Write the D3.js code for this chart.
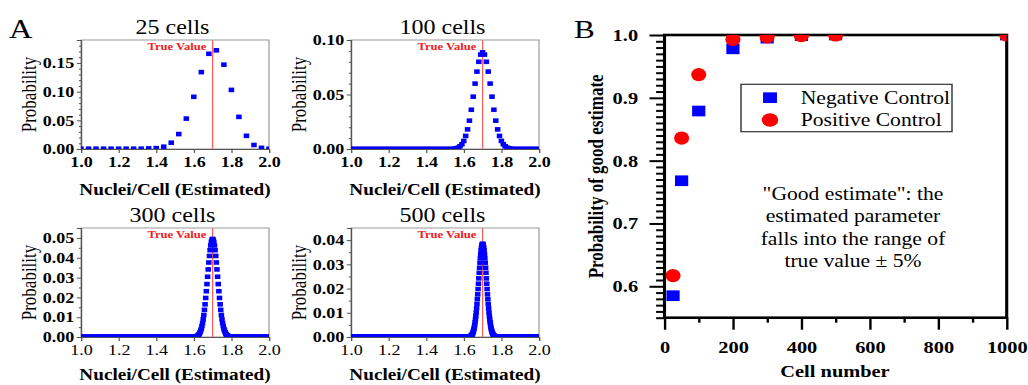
<!DOCTYPE html>
<html>
<head>
<meta charset="utf-8">
<script src="https://cdn.jsdelivr.net/npm/d3@7"></script>
<style>
	body { margin: 0; background: #fff; }
	svg { display: block; }
	text { font-family: "Liberation Serif", "Times New Roman", serif; }
</style>
</head>
<body>
<svg id="fig"></svg>
<script>
// ---- data ----
// panel A: probability of each estimate i/n (i = start, start+1, ...); tails read as 0
const cellCounts = [ 25, 100, 300, 500 ] ;
const panelTitles = [ '25 cells', '100 cells', '300 cells', '500 cells' ] ;
const trueValue = 1.7 ;

const p25Start = 25 ;
const p25 = [ 0.0005, 0.0005, 0.0005, 0.0005, 0.0005, 0.0005, 0.0005, 0.0005, 0.0005, 0.001, 0.0015,
	0.004, 0.011, 0.026, 0.053, 0.091, 0.134, 0.166, 0.172, 0.147, 0.103, 0.056, 0.023, 0.007, 0.002, 0.0005 ] ;

const p100Start = 155 ;
const p100 = [ 0.0003, 0.0006, 0.0013, 0.0025, 0.0044, 0.0074, 0.012, 0.018, 0.026, 0.036, 0.048, 0.060,
	0.071, 0.080, 0.0866, 0.0887, 0.0866, 0.080, 0.071, 0.060, 0.048, 0.036, 0.026, 0.018, 0.012, 0.0074,
	0.0044, 0.0025, 0.0013, 0.0006, 0.0003 ] ;

const p300Start = 482 ;
const p300 = [ 0.0001, 0.0002, 0.0003, 0.0004, 0.0006, 0.0009, 0.0012, 0.0017, 0.0024, 0.0032, 0.0042,
	0.0055, 0.0070, 0.0089, 0.0111, 0.0137, 0.0165, 0.0197, 0.0231, 0.0267, 0.0304, 0.0341, 0.0376, 0.0409,
	0.0438, 0.0462, 0.0480, 0.0491, 0.0495, 0.0491, 0.0480, 0.0462, 0.0438, 0.0409, 0.0376, 0.0341, 0.0304,
	0.0267, 0.0231, 0.0197, 0.0165, 0.0137, 0.0111, 0.0089, 0.0070, 0.0055, 0.0042, 0.0032, 0.0024, 0.0017,
	0.0012, 0.0009, 0.0006, 0.0004, 0.0003, 0.0002, 0.0001 ] ;

const p500Start = 814 ;
const p500 = [ 0.0001, 0.0001, 0.0002, 0.0003, 0.0003, 0.0005, 0.0006, 0.0008, 0.0010, 0.0013, 0.0017,
	0.0021, 0.0027, 0.0033, 0.0041, 0.0050, 0.0061, 0.0073, 0.0086, 0.0101, 0.0118, 0.0136, 0.0156, 0.0176,
	0.0198, 0.0220, 0.0242, 0.0265, 0.0286, 0.0307, 0.0326, 0.0343, 0.0358, 0.0369, 0.0378, 0.0383, 0.0385,
	0.0383, 0.0378, 0.0369, 0.0358, 0.0343, 0.0326, 0.0307, 0.0286, 0.0265, 0.0242, 0.0220, 0.0198, 0.0176,
	0.0156, 0.0136, 0.0118, 0.0101, 0.0086, 0.0073, 0.0061, 0.0050, 0.0041, 0.0033, 0.0027, 0.0021, 0.0017,
	0.0013, 0.0010, 0.0008, 0.0006, 0.0005, 0.0003, 0.0003, 0.0002, 0.0001, 0.0001 ] ;

const xTicksA = [ 1.0, 1.2, 1.4, 1.6, 1.8, 2.0 ] ;
const yMaxA = [ 0.19, 0.10, 0.055, 0.045 ] ;
const yTicksA = [
	[ 0, 0.05, 0.10, 0.15 ],
	[ 0, 0.05, 0.10 ],
	[ 0, 0.01, 0.02, 0.03, 0.04, 0.05 ],
	[ 0, 0.01, 0.02, 0.03, 0.04 ]
] ;
const yMinorA = [
	[ 0.01, 0.02, 0.03, 0.04, 0.06, 0.07, 0.08, 0.09, 0.11, 0.12, 0.13, 0.14, 0.16, 0.17, 0.18 ],
	[ 0.01, 0.02, 0.03, 0.04, 0.06, 0.07, 0.08, 0.09 ],
	[ 0.005, 0.015, 0.025, 0.035, 0.045 ],
	[ 0.005, 0.015, 0.025, 0.035 ]
] ;

// panel B
const cellNumbers = [ 25, 50, 100, 200, 300, 400, 500, 1000 ] ;
const negativeControl = [ 0.585, 0.768, 0.879, 0.978, 0.995, 0.999, 1.0, 1.0 ] ;
const positiveControl = [ 0.617, 0.836, 0.937, 0.993, 0.997, 0.999, 1.0, 1.0 ] ;
const xTicksB = [ 0, 200, 400, 600, 800, 1000 ] ;
const xMinorB = [ 100, 300, 500, 700, 900 ] ;
const yTicksB = [ 0.6, 0.7, 0.8, 0.9, 1.0 ] ;
const yMinorB = [ 0.55, 0.56, 0.57, 0.58, 0.59, 0.61, 0.62, 0.63, 0.64, 0.65, 0.66, 0.67, 0.68, 0.69,
	0.71, 0.72, 0.73, 0.74, 0.75, 0.76, 0.77, 0.78, 0.79, 0.81, 0.82, 0.83, 0.84, 0.85, 0.86, 0.87, 0.88,
	0.89, 0.91, 0.92, 0.93, 0.94, 0.95, 0.96, 0.97, 0.98, 0.99 ] ;
const annotation = [ '"Good estimate": the', 'estimated parameter', 'falls into the range of', 'true value \u00b1 5%' ] ;

// ---- layout ----
// the original figure is stretched horizontally, so draw in a squeezed viewBox
const SX = 1.2 ;
const vx = px => px / SX ;
const svg = d3.select( '#fig' )
	.attr( 'width', 1028 )
	.attr( 'height', 385 )
	.attr( 'viewBox', `0 0 ${1028 / SX} 385` )
	.attr( 'preserveAspectRatio', 'none' ) ;

const boxesA = [
	{ left: 81, right: 269, top: 40, bottom: 149 },
	{ left: 351, right: 539, top: 40, bottom: 149 },
	{ left: 81, right: 269, top: 228, bottom: 337 },
	{ left: 351, right: 539, top: 228, bottom: 337 }
] ;
const boldX = [ true, true, false, false ] ;
const series = [ [ p25Start, p25 ], [ p100Start, p100 ], [ p300Start, p300 ], [ p500Start, p500 ] ] ;

svg.append( 'text' ).attr( 'x', vx(9) ).attr( 'y', 38 ).attr( 'font-size', 27 ).text( 'A' ) ;
svg.append( 'text' ).attr( 'x', vx(574) ).attr( 'y', 38 ).attr( 'font-size', 26 ).text( 'B' ) ;

boxesA.forEach( ( b, k ) => {
	const n = cellCounts[k] ;
	const [ start, probs ] = series[k] ;
	const data = d3.range( n, 2 * n + 1 ).map( i => ({
		x: i / n,
		p: ( i >= start && i < start + probs.length ) ? probs[i - start] : 0
	}) ) ;

	const x = d3.scaleLinear().domain( [ 1, 2 ] ).range( [ vx(b.left), vx(b.right) ] ) ;
	const y = d3.scaleLinear().domain( [ 0, yMaxA[k] ] ).range( [ b.bottom, b.top ] ) ;
	const g = svg.append( 'g' ) ;

	g.append( 'clipPath' ).attr( 'id', 'clipA' + k )
		.append( 'rect' )
		.attr( 'x', x(1) ).attr( 'y', b.top )
		.attr( 'width', x(2) - x(1) ).attr( 'height', b.bottom - b.top ) ;

	// frame: light top/right, darker left/bottom
	g.append( 'rect' )
		.attr( 'x', x(1) ).attr( 'y', b.top )
		.attr( 'width', x(2) - x(1) ).attr( 'height', b.bottom - b.top )
		.attr( 'fill', 'none' ).attr( 'stroke', '#999' ).attr( 'stroke-width', 1 ) ;

	const yAxis = g.append( 'g' )
		.attr( 'transform', `translate(${x(1)},0)` )
		.call( d3.axisLeft( y ).tickValues( yTicksA[k] ).tickSize( 3.5 ).tickPadding( 2.2 ).tickFormat( d3.format( '.2f' ) ) ) ;
	yAxis.selectAll( 'text' ).attr( 'font-size', 15 ).attr( 'font-weight', 'bold' ).attr( 'font-family', null ).attr( 'fill', '#000' ) ;
	g.append( 'g' )
		.attr( 'transform', `translate(${x(1)},0)` )
		.call( d3.axisLeft( y ).tickValues( yMinorA[k] ).tickSize( 1.8 ).tickFormat( '' ) )
		.select( '.domain' ).remove() ;

	const xAxis = g.append( 'g' )
		.attr( 'transform', `translate(0,${b.bottom})` )
		.call( d3.axisBottom( x ).tickValues( xTicksA ).tickSize( 4 ).tickPadding( 3.3 ).tickFormat( d3.format( '.1f' ) ) ) ;
	xAxis.selectAll( 'text' ).attr( 'font-size', 15 ).attr( 'font-weight', boldX[k] ? 'bold' : 'normal' ).attr( 'font-family', null ).attr( 'fill', '#000' ) ;

	g.selectAll( '.tick line, .domain' ).attr( 'stroke', '#555' ) ;

	// true value marker
	g.append( 'line' )
		.attr( 'x1', x(trueValue) ).attr( 'x2', x(trueValue) )
		.attr( 'y1', b.top ).attr( 'y2', b.bottom )
		.attr( 'stroke', '#ff5c5c' ).attr( 'stroke-width', 1 ) ;
	g.append( 'text' )
		.attr( 'x', x(trueValue) - 5.2 ).attr( 'y', b.top + 10 )
		.attr( 'text-anchor', 'end' )
		.attr( 'font-size', 10.5 ).attr( 'font-weight', 'bold' )
		.attr( 'fill', '#f02020' )
		.text( 'True Value' ) ;

	g.append( 'g' ).attr( 'clip-path', `url(#clipA${k})` )
		.selectAll( 'rect' )
		.data( data )
		.enter()
		.append( 'rect' )
		.attr( 'x', d => x(d.x) - 2.3 )
		.attr( 'y', d => y(d.p) - 2.3 )
		.attr( 'width', 4.6 ).attr( 'height', 4.6 )
		.attr( 'fill', '#0000ff' ) ;

	// titles
	g.append( 'text' )
		.attr( 'x', vx( ( b.left + b.right ) / 2 - 2.5 ) ).attr( 'y', b.top - 6 )
		.attr( 'text-anchor', 'middle' ).attr( 'font-size', 20 )
		.text( panelTitles[k] ) ;
	g.append( 'text' )
		.attr( 'x', vx( ( b.left + b.right ) / 2 ) ).attr( 'y', Math.min( b.bottom + 46, 380 ) )
		.attr( 'text-anchor', 'middle' ).attr( 'font-size', 16 ).attr( 'font-weight', 'bold' )
		.text( 'Nuclei/Cell (Estimated)' ) ;
	g.append( 'text' )
		.attr( 'transform', `translate(${vx(b.left - 45.5)},${( b.top + b.bottom ) / 2}) rotate(-90)` )
		.attr( 'text-anchor', 'middle' ).attr( 'font-size', 17 )
		.text( 'Probability' ) ;
} ) ;

// ---- panel B ----
const B = { left: 664.5, right: 1006.7, top: 35, bottom: 317.7 } ;
const xB = d3.scaleLinear().domain( [ 0, 1000 ] ).range( [ vx(B.left), vx(B.right) ] ) ;
const yB = d3.scaleLinear().domain( [ 0.55, 1.0 ] ).range( [ B.bottom, B.top ] ) ;
const gB = svg.append( 'g' ) ;

gB.append( 'clipPath' ).attr( 'id', 'clipB' )
	.append( 'rect' )
	.attr( 'x', xB(0) ).attr( 'y', B.top )
	.attr( 'width', xB(1000) - xB(0) ).attr( 'height', B.bottom - B.top ) ;

const yAxisB = gB.append( 'g' )
	.attr( 'transform', `translate(${xB(0)},0)` )
	.call( d3.axisLeft( yB ).tickValues( yTicksB ).tickSize( 12.5 ).tickPadding( 9.5 ).tickFormat( d3.format( '.1f' ) ) ) ;
yAxisB.selectAll( 'text' ).attr( 'font-size', 17 ).attr( 'font-weight', 'bold' ).attr( 'font-family', null ).attr( 'fill', '#000' ) ;
gB.append( 'g' )
	.attr( 'transform', `translate(${xB(0)},0)` )
	.call( d3.axisLeft( yB ).tickValues( yMinorB ).tickSize( 7 ).tickFormat( '' ) )
	.select( '.domain' ).remove() ;

const xAxisB = gB.append( 'g' )
	.attr( 'transform', `translate(0,${B.bottom})` )
	.call( d3.axisBottom( xB ).tickValues( xTicksB ).tickSize( 12 ).tickPadding( 11 ).tickFormat( d3.format( 'd' ) ) ) ;
xAxisB.selectAll( 'text' ).attr( 'font-size', 17 ).attr( 'font-weight', 'bold' ).attr( 'font-family', null ).attr( 'fill', '#000' ) ;
gB.append( 'g' )
	.attr( 'transform', `translate(0,${B.bottom})` )
	.call( d3.axisBottom( xB ).tickValues( xMinorB ).tickSize( 5 ).tickFormat( '' ) )
	.select( '.domain' ).remove() ;

gB.selectAll( '.tick line' ).attr( 'stroke', '#000' ).attr( 'stroke-width', 2 ) ;
gB.selectAll( '.domain' ).remove() ;

gB.append( 'rect' )
	.attr( 'x', xB(0) ).attr( 'y', B.top )
	.attr( 'width', xB(1000) - xB(0) ).attr( 'height', B.bottom - B.top )
	.attr( 'fill', 'none' ).attr( 'stroke', '#000' ).attr( 'stroke-width', 2.6 ) ;

const marks = gB.append( 'g' ).attr( 'clip-path', 'url(#clipB)' ) ;
marks.selectAll( 'rect.neg' )
	.data( d3.zip( cellNumbers, negativeControl ) )
	.enter()
	.append( 'rect' )
	.attr( 'class', 'neg' )
	.attr( 'x', d => xB(d[0]) - 5.5 )
	.attr( 'y', d => yB(d[1]) - 5.35 )
	.attr( 'width', 11 ).attr( 'height', 10.7 )
	.attr( 'fill', '#0000ff' ) ;
marks.selectAll( 'ellipse.pos' )
	.data( d3.zip( cellNumbers, positiveControl ) )
	.enter()
	.append( 'ellipse' )
	.attr( 'class', 'pos' )
	.attr( 'cx', d => xB(d[0]) )
	.attr( 'cy', d => yB(d[1]) )
	.attr( 'rx', 6.3 ).attr( 'ry', 6.6 )
	.attr( 'fill', '#ff0000' ) ;

// legend
const legend = gB.append( 'g' ) ;
legend.append( 'rect' )
	.attr( 'x', vx(741) ).attr( 'y', 84.3 )
	.attr( 'width', vx(952) - vx(741) ).attr( 'height', 47.4 )
	.attr( 'fill', '#fff' ).attr( 'stroke', '#333' ).attr( 'stroke-width', 1.2 ) ;
legend.append( 'rect' )
	.attr( 'x', vx(770) - 5.8 ).attr( 'y', 97.7 - 5.35 )
	.attr( 'width', 11.6 ).attr( 'height', 10.7 )
	.attr( 'fill', '#0000ff' ) ;
legend.append( 'ellipse' )
	.attr( 'cx', vx(770) ).attr( 'cy', 120 )
	.attr( 'rx', 6.9 ).attr( 'ry', 6.7 )
	.attr( 'fill', '#ff0000' ) ;
legend.append( 'text' ).attr( 'x', vx(800.7) ).attr( 'y', 104 ).attr( 'font-size', 18 ).text( 'Negative Control' ) ;
legend.append( 'text' ).attr( 'x', vx(800.7) ).attr( 'y', 126 ).attr( 'font-size', 18 ).text( 'Positive Control' ) ;

gB.selectAll( 'text.note' )
	.data( annotation )
	.enter()
	.append( 'text' )
	.attr( 'class', 'note' )
	.attr( 'x', vx(853) )
	.attr( 'y', ( d, i ) => 200 + i * 22.5 )
	.attr( 'text-anchor', 'middle' ).attr( 'font-size', 18 )
	.text( d => d ) ;

gB.append( 'text' )
	.attr( 'x', vx(835) ).attr( 'y', 377 )
	.attr( 'text-anchor', 'middle' ).attr( 'font-size', 17 ).attr( 'font-weight', 'bold' )
	.text( 'Cell number' ) ;
gB.append( 'text' )
	.attr( 'transform', `translate(${vx(596) + 5.6},${( B.top + B.bottom ) / 2}) rotate(-90)` )
	.attr( 'text-anchor', 'middle' ).attr( 'font-size', 17 ).attr( 'font-weight', 'bold' )
	.text( 'Probability of good estimate' ) ;
</script>
</body>
</html>
